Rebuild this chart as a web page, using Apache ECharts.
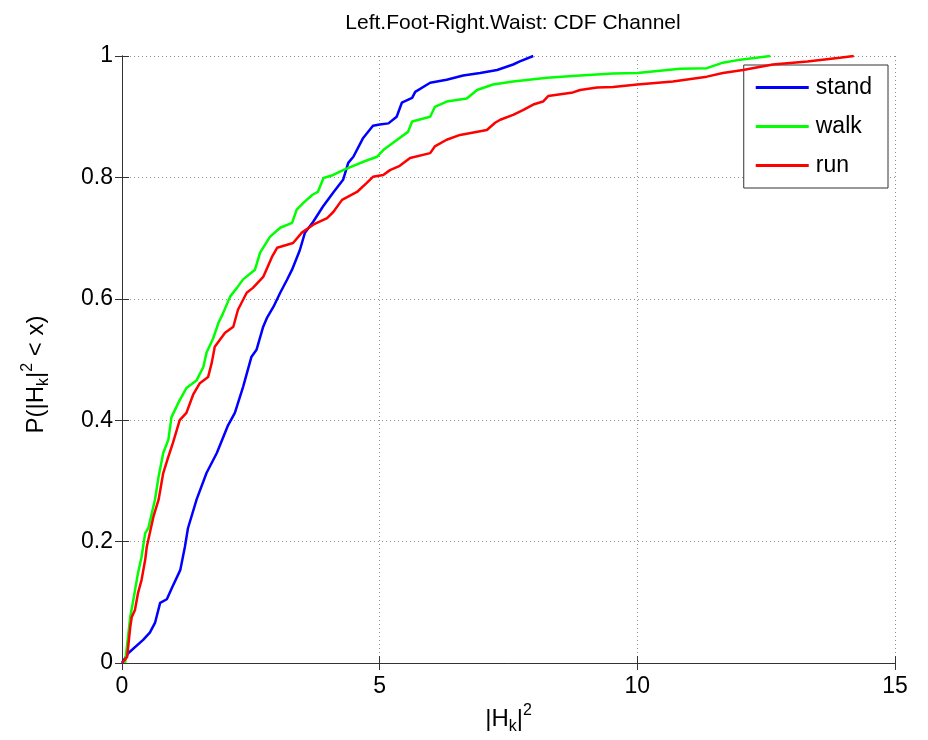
<!DOCTYPE html>
<html><head><meta charset="utf-8">
<script src="https://cdn.jsdelivr.net/npm/echarts@6/dist/echarts.min.js"></script>
<style>html,body{margin:0;padding:0;background:#fff}#c{width:928px;height:740px}</style>
</head><body><div id="c"></div>
<script>
const titleText = 'Left.Foot-Right.Waist: CDF Channel';
const seriesNames = ['stand', 'walk', 'run'];
const xTicks = [0, 5, 10, 15];
const yTicks = [0, 0.2, 0.4, 0.6, 0.8, 1];

const standX = [0, 0.12, 0.41, 0.54, 0.64, 0.74, 0.87, 0.97, 1.13, 1.22, 1.28, 1.45, 1.64, 1.84, 2.06, 2.19, 2.35, 2.51, 2.61, 2.74, 2.81, 2.94, 3.07, 3.2, 3.3, 3.45, 3.55, 3.71, 3.9, 4.1, 4.29, 4.39, 4.49, 4.68, 4.87, 5.0, 5.17, 5.33, 5.43, 5.63, 5.69, 5.98, 6.3, 6.62, 6.95, 7.28, 7.59, 7.72, 7.98];
const standP = [0, 0.016, 0.038, 0.05, 0.066, 0.099, 0.105, 0.124, 0.153, 0.191, 0.222, 0.27, 0.313, 0.346, 0.392, 0.412, 0.455, 0.504, 0.516, 0.554, 0.568, 0.587, 0.61, 0.631, 0.648, 0.68, 0.709, 0.727, 0.752, 0.775, 0.796, 0.824, 0.834, 0.865, 0.885, 0.887, 0.889, 0.9, 0.923, 0.931, 0.941, 0.956, 0.961, 0.968, 0.972, 0.977, 0.986, 0.991, 1.0];

const walkX = [0.06, 0.16, 0.22, 0.31, 0.38, 0.45, 0.51, 0.64, 0.71, 0.8, 0.9, 0.96, 1.12, 1.25, 1.45, 1.58, 1.64, 1.77, 1.87, 1.96, 2.1, 2.23, 2.35, 2.58, 2.68, 2.87, 3.07, 3.3, 3.39, 3.52, 3.69, 3.8, 3.91, 4.1, 4.29, 4.49, 4.72, 4.95, 5.07, 5.26, 5.55, 5.63, 5.98, 6.07, 6.3, 6.69, 6.89, 7.2, 7.59, 8.25, 8.89, 9.53, 10.0, 10.83, 11.35, 11.66, 12.0, 12.58];
const walkP = [0, 0.076, 0.104, 0.148, 0.175, 0.214, 0.222, 0.269, 0.307, 0.346, 0.368, 0.405, 0.433, 0.453, 0.466, 0.488, 0.511, 0.535, 0.56, 0.576, 0.604, 0.618, 0.632, 0.648, 0.676, 0.702, 0.717, 0.725, 0.747, 0.758, 0.771, 0.776, 0.799, 0.804, 0.812, 0.819, 0.827, 0.834, 0.845, 0.857, 0.875, 0.892, 0.9, 0.916, 0.925, 0.93, 0.944, 0.953, 0.958, 0.964, 0.968, 0.971, 0.972, 0.979, 0.98, 0.989, 0.994, 1.0];

const runX = [0, 0.1, 0.16, 0.19, 0.25, 0.31, 0.38, 0.45, 0.48, 0.54, 0.61, 0.71, 0.8, 0.9, 0.99, 1.12, 1.25, 1.38, 1.51, 1.67, 1.74, 1.8, 2.0, 2.16, 2.25, 2.42, 2.54, 2.74, 2.91, 3.01, 3.32, 3.49, 3.71, 3.98, 4.1, 4.27, 4.56, 4.75, 4.87, 5.07, 5.2, 5.39, 5.59, 5.98, 6.07, 6.3, 6.56, 7.08, 7.24, 7.34, 7.59, 7.78, 7.98, 8.17, 8.27, 8.75, 8.89, 9.22, 9.53, 10.0, 10.69, 11.35, 11.66, 12.05, 12.63, 13.3, 13.93, 14.2];
const runP = [0, 0.01, 0.059, 0.076, 0.087, 0.115, 0.137, 0.17, 0.191, 0.214, 0.241, 0.269, 0.313, 0.34, 0.363, 0.4, 0.412, 0.442, 0.461, 0.471, 0.494, 0.521, 0.544, 0.554, 0.582, 0.61, 0.618, 0.636, 0.669, 0.684, 0.692, 0.709, 0.722, 0.733, 0.743, 0.763, 0.776, 0.791, 0.801, 0.804, 0.812, 0.819, 0.832, 0.84, 0.851, 0.862, 0.87, 0.878, 0.89, 0.895, 0.903, 0.911, 0.92, 0.925, 0.934, 0.94, 0.944, 0.948, 0.949, 0.953, 0.958, 0.966, 0.972, 0.977, 0.986, 0.991, 0.997, 1.0];

const colors = ['#0000ff', '#00ff00', '#ff0000'];
const xs = [standX, walkX, runX];
const ps = [standP, walkP, runP];

const FONT = 'Liberation Sans, Arial, Helvetica, sans-serif';
const chart = echarts.init(document.getElementById('c'), null, {renderer: 'canvas'});

const gridLine = {show: true, lineStyle: {type: [1, 3], color: '#909090', width: 1}};
const axLine = {show: true, lineStyle: {color: '#333', width: 1}};
const rich = {
  a: {fontSize: 24, fontFamily: FONT, color: '#000', lineHeight: 32},
  sub: {fontSize: 16, fontFamily: FONT, color: '#000', lineHeight: 16, verticalAlign: 'bottom'},
  sup: {fontSize: 16, fontFamily: FONT, color: '#000', lineHeight: 16, verticalAlign: 'top'}
};

chart.setOption({
  animation: false,
  backgroundColor: '#fff',
  title: {text: titleText, left: 508, textAlign: 'center', top: 8,
    textStyle: {fontSize: 21, fontWeight: 'normal', fontFamily: FONT, color: '#000'}},
  grid: {left: 122, right: 33, top: 56, bottom: 77, containLabel: false},
  legend: {
    data: seriesNames, orient: 'vertical', right: 40, top: 65,
    icon: 'rect', itemWidth: 53, itemHeight: 3, itemGap: 16,
    padding: [11, 16, 11, 12], borderColor: '#333', borderWidth: 1, backgroundColor: '#fff',
    textStyle: {fontSize: 23, fontFamily: FONT, color: '#000', padding: [0, 0, 0, 2]}
  },
  xAxis: [{
    type: 'value', min: 0, max: 15, interval: 5,
    name: '{a||H}{sub|k}{a||}{sup|2}', nameLocation: 'middle', nameGap: 40,
    nameTextStyle: {rich: rich},
    axisLine: axLine, axisTick: {show: true, inside: true, length: 7, lineStyle: {color: '#333'}},
    axisLabel: {fontSize: 23, fontFamily: FONT, color: '#000', margin: 12},
    splitLine: gridLine
  }, {
    type: 'value', min: 0, max: 15, interval: 5, position: 'top',
    axisLine: axLine, axisTick: {show: true, inside: true, length: 7, lineStyle: {color: '#333'}},
    axisLabel: {show: false}, splitLine: {show: false}
  }],
  yAxis: [{
    type: 'value', min: 0, max: 1, interval: 0.2,
    name: '{a|P(|H}{sub|k}{a||}{sup|2}{a| < x)}', nameLocation: 'middle', nameGap: 70, nameRotate: 90,
    nameTextStyle: {rich: rich, padding: [0, 0, 0, -30]},
    axisLine: axLine, axisTick: {show: true, inside: true, length: 7, lineStyle: {color: '#333'}},
    axisLabel: {fontSize: 23, fontFamily: FONT, color: '#000', margin: 9,
      formatter: v => String(Math.round(v * 10) / 10)},
    splitLine: gridLine
  }, {
    type: 'value', min: 0, max: 1, interval: 0.2, position: 'right',
    axisLine: axLine, axisTick: {show: true, inside: true, length: 7, lineStyle: {color: '#333'}},
    axisLabel: {show: false}, splitLine: {show: false}
  }],
  series: seriesNames.map((n, i) => ({
    name: n, type: 'line', xAxisIndex: 0, yAxisIndex: 0,
    showSymbol: false, symbol: 'none', smooth: false,
    color: colors[i],
    lineStyle: {color: colors[i], width: 2.5},
    data: xs[i].map((x, j) => [x, ps[i][j]]),
    z: 3 + i
  }))
});
</script></body></html>
